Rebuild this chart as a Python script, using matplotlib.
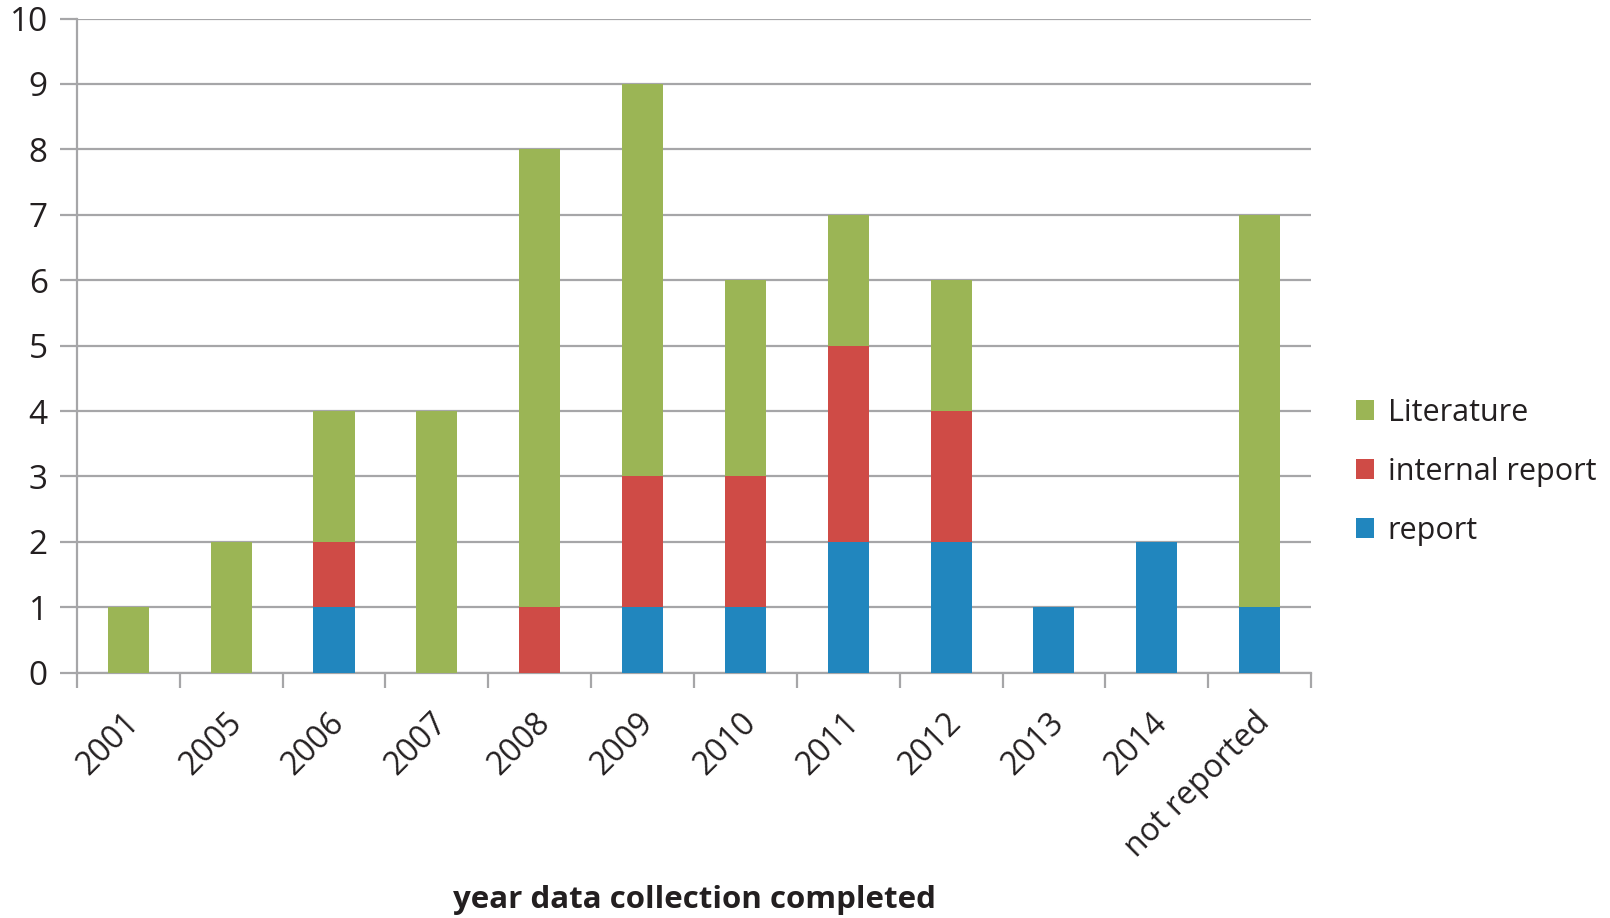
import matplotlib.pyplot as plt
import matplotlib.transforms as mtransforms
import numpy as np

# ===== Data =====
categorias = ['2001', '2005', '2006', '2007', '2008', '2009', '2010',
              '2011', '2012', '2013', '2014', 'not reported']
report = [0, 0, 1, 0, 0, 1, 1, 2, 2, 1, 2, 1]
internal_report = [0, 0, 1, 0, 1, 2, 2, 3, 2, 0, 0, 0]
literature = [1, 2, 2, 4, 7, 6, 3, 2, 2, 0, 0, 6]

cores = {'report': '#2186BE', 'internal report': '#CF4B46', 'Literature': '#9BB555'}
cinza = '#A6A6A8'

plt.rcParams['font.family'] = ['Open Sans', 'DejaVu Sans']

fig = plt.figure(figsize=(16.1, 9.18), dpi=100)
ax = fig.add_axes([0.0478, 0.2672, 0.7665, 0.7126])

x = np.arange(len(categorias))
base = np.zeros(len(categorias))
barras = {}
for nome, valores in [('report', report), ('internal report', internal_report),
                      ('Literature', literature)]:
    barras[nome] = ax.bar(x, valores, width=0.4, bottom=base, color=cores[nome],
                          label=nome, zorder=3)
    base = base + np.array(valores)

ax.set_xlim(-0.5, len(categorias) - 0.5)
ax.set_ylim(0, 10)
ax.set_yticks(range(0, 11))
ax.yaxis.grid(True, color=cinza, linewidth=1.6, zorder=0)
ax.set_axisbelow(True)

ax.set_xticks(x)
ax.set_xticklabels(categorias, rotation=45, ha='right', rotation_mode='anchor')
ax.set_xticks(np.arange(-0.5, len(categorias) + 0.5, 1), minor=True)
ax.tick_params(axis='x', which='major', length=0, pad=24, labelsize=23, colors='#231F20')
ax.tick_params(axis='x', which='minor', length=11, width=1.6, color=cinza, direction='out')
ax.tick_params(axis='y', length=12, width=1.6, color=cinza, labelsize=24, pad=9,
               labelcolor='#231F20')

# desloca os rótulos do eixo x um pouco para a esquerda
desloc = mtransforms.ScaledTranslation(-6 / 100, 0, fig.dpi_scale_trans)
for lbl in ax.get_xticklabels():
    lbl.set_transform(lbl.get_transform() + desloc)

for lado in ['top', 'right']:
    ax.spines[lado].set_visible(False)
for lado in ['left', 'bottom']:
    ax.spines[lado].set_color(cinza)
    ax.spines[lado].set_linewidth(1.6)

ax.set_xlabel('year data collection completed', fontsize=22.5, fontweight='bold',
              color='#231F20')
ax.xaxis.set_label_coords(0.5, -0.325)

handles = [barras['Literature'], barras['internal report'], barras['report']]
leg = fig.legend(handles, ['Literature', 'internal report', 'report'],
                 loc='center left', bbox_to_anchor=(0.825, 0.486), frameon=False,
                 fontsize=22, handlelength=0.6, handleheight=0.6, handletextpad=0.45,
                 labelspacing=0.95)
for t in leg.get_texts():
    t.set_color('#231F20')

fig.savefig('out.png', dpi=100)
